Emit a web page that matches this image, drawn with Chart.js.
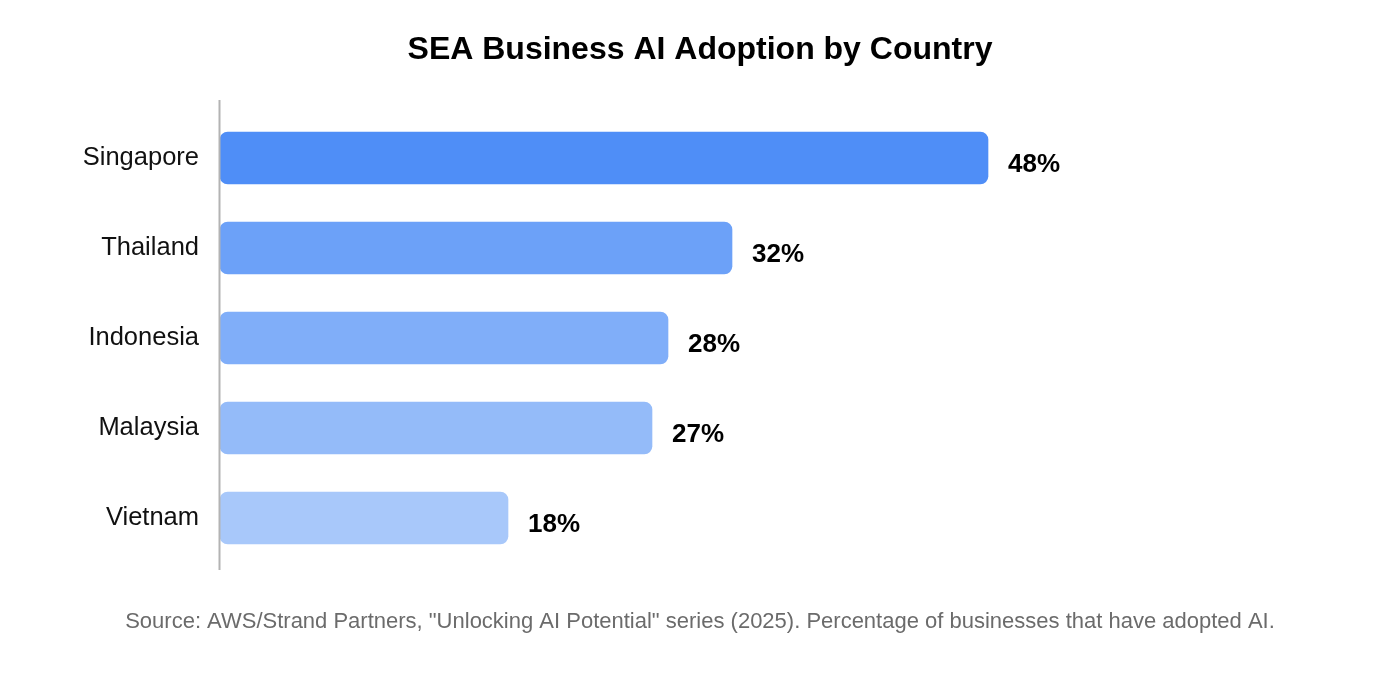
<!DOCTYPE html>
<html>
<head>
<meta charset="utf-8">
<script src="https://cdn.jsdelivr.net/npm/chart.js@4/dist/chart.umd.min.js"></script>
<style>
  html, body { margin: 0; padding: 0; background: #ffffff; }
  #wrap { width: 1400px; height: 680px; }
</style>
</head>
<body>
<div id="wrap"><canvas id="c" width="1400" height="680"></canvas></div>
<script>
const countries = ["Singapore", "Thailand", "Indonesia", "Malaysia", "Vietnam"];
const adoption = [48, 32, 28, 27, 18];
const barColors = ["#4F8EF7", "#6CA1F8", "#80AEF9", "#94BBF9", "#A8C8FA"];
const titleText = "SEA Business AI Adoption by Country";
const sourceText = "Source: AWS/Strand Partners, \"Unlocking AI Potential\" series (2025). Percentage of businesses that have adopted AI.";

const FONT = "'Liberation Sans', Arial, Helvetica, sans-serif";

const valueLabels = {
  id: "valueLabels",
  afterDatasetsDraw(chart) {
    const ctx = chart.ctx;
    const meta = chart.getDatasetMeta(0);
    ctx.save();
    ctx.font = "bold 26px " + FONT;
    ctx.fillStyle = "#000000";
    ctx.textAlign = "left";
    ctx.textBaseline = "middle";
    meta.data.forEach((bar, i) => {
      ctx.fillText(adoption[i] + "%", bar.x + 20, bar.y + 7);
    });
    ctx.restore();
  }
};

const axisLine = {
  id: "axisLine",
  afterDatasetsDraw(chart) {
    const ctx = chart.ctx;
    const a = chart.chartArea;
    ctx.save();
    ctx.strokeStyle = "#b3b3b3";
    ctx.lineWidth = 2;
    ctx.beginPath();
    ctx.moveTo(a.left - 0.5, a.top - 13);
    ctx.lineTo(a.left - 0.5, a.bottom + 7);
    ctx.stroke();
    ctx.restore();
  }
};

new Chart(document.getElementById("c"), {
  type: "bar",
  data: {
    labels: countries,
    datasets: [{
      data: adoption,
      backgroundColor: barColors,
      borderRadius: 8,
      borderSkipped: false,
      barThickness: 52
    }]
  },
  options: {
    indexAxis: "y",
    responsive: false,
    animation: false,
    devicePixelRatio: 1,
    layout: { padding: 0 },
    scales: {
      x: { display: false, min: 0, max: 73.75 },
      y: {
        grid: { display: false },
        border: { display: false },
        ticks: {
          color: "#111111",
          font: { family: FONT, size: 25.5 },
          padding: 13
        },
        afterFit(scale) { scale.width = 220; }
      }
    },
    plugins: {
      legend: { display: false },
      tooltip: { enabled: false },
      title: {
        display: true,
        text: titleText,
        color: "#000000",
        font: { family: FONT, size: 32, weight: "bold", lineHeight: 1.2 },
        padding: { top: 31, bottom: 43.6 }
      },
      subtitle: {
        display: true,
        position: "bottom",
        text: sourceText,
        color: "#6b6b6b",
        font: { family: FONT, size: 22, lineHeight: 1.2 },
        padding: { top: 45.8, bottom: 44.8 }
      }
    }
  },
  plugins: [axisLine, valueLabels]
});
</script>
</body>
</html>
